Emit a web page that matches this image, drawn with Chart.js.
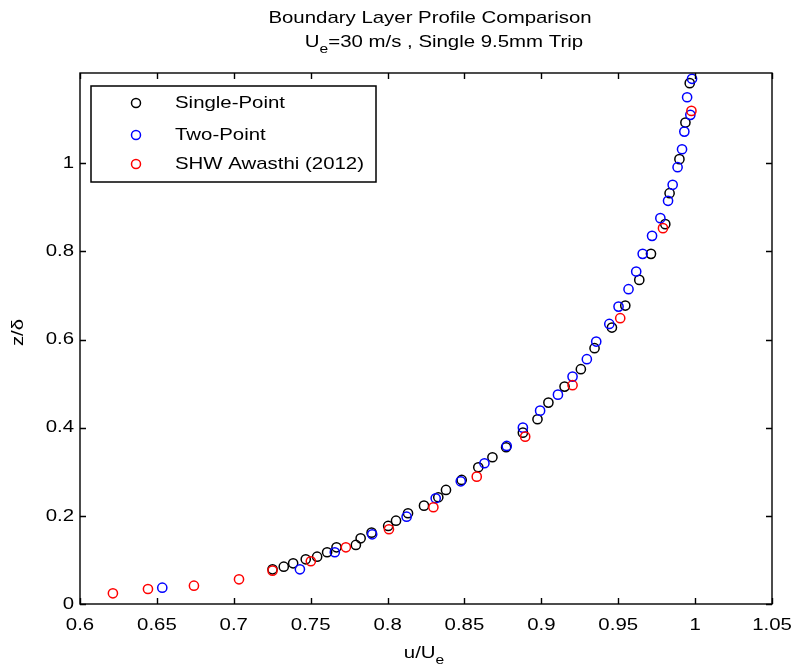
<!DOCTYPE html>
<html lang="en">
<head>
  <meta charset="UTF-8" />
  <title>Boundary Layer Profile Comparison</title>
  <script src="https://cdn.jsdelivr.net/npm/chart.js"></script>
  <style>
    body { margin: 0; background: #fff; }
  </style>
</head>
<body>
  <canvas id="chart" width="796" height="670"></canvas>

  <script>
    // data (u/Ue, z/delta)
    const singleU = [0.7252, 0.7325, 0.7386, 0.7468, 0.7542, 0.7607, 0.7668, 0.7794, 0.7825, 0.7896, 0.8004, 0.8055,
      0.8133, 0.8237, 0.8330, 0.8380, 0.8482, 0.8590, 0.8682, 0.8771, 0.8880, 0.8975, 0.9046, 0.9151, 0.9257,
      0.9346, 0.9459, 0.9546, 0.9637, 0.9713, 0.9806, 0.9834, 0.9898, 0.9937, 0.9965];
    const singleZ = [0.0788, 0.0847, 0.0923, 0.1014, 0.1074, 0.1174, 0.1287, 0.1340, 0.1491, 0.1619, 0.1771, 0.1891,
      0.2059, 0.2232, 0.2422, 0.2588, 0.2815, 0.3103, 0.3330, 0.3557, 0.3889, 0.4193, 0.4570, 0.4933, 0.5328,
      0.5805, 0.6273, 0.6772, 0.7355, 0.7946, 0.8620, 0.9323, 1.0095, 1.0926, 1.1820];

    const twoU = [0.6535, 0.7430, 0.7657, 0.7900, 0.8124, 0.8313, 0.8476, 0.8630, 0.8775, 0.8880, 0.8992, 0.9108,
      0.9203, 0.9296, 0.9357, 0.9442, 0.9502, 0.9567, 0.9617, 0.9659, 0.9720, 0.9774, 0.9824, 0.9854, 0.9886,
      0.9915, 0.9930, 0.9969, 0.9948, 0.9980];
    const twoZ = [0.0370, 0.0788, 0.1174, 0.1582, 0.1982, 0.2400, 0.2785, 0.3194, 0.3587, 0.4002, 0.4388, 0.4751,
      0.5160, 0.5555, 0.5955, 0.6356, 0.6749, 0.7144, 0.7544, 0.7946, 0.8354, 0.8756, 0.9149, 0.9512, 0.9913,
      1.0320, 1.0720, 1.1100, 1.1500, 1.1918];

    const awasthiU = [0.6214, 0.6442, 0.6741, 0.7034, 0.7252, 0.7501, 0.7729, 0.8009, 0.8298, 0.8580, 0.8895,
      0.9203, 0.9513, 0.9791, 0.9976];
    const awasthiZ = [0.0243, 0.0340, 0.0416, 0.0560, 0.0757, 0.0970, 0.1287, 0.1696, 0.2195, 0.2890, 0.3798,
      0.4965, 0.6486, 0.8529, 1.1190];

    const seriesNames = ["Single-Point", "Two-Point", "SHW Awasthi (2012)"];
    const xTicks = [0.6, 0.65, 0.7, 0.75, 0.8, 0.85, 0.9, 0.95, 1, 1.05];
    const yTicks = [0, 0.2, 0.4, 0.6, 0.8, 1];

    const FONT = '"Liberation Sans", Arial, sans-serif';
    const SX = 1.2; // text in the figure is stretched sideways
    const FS = 17;

    function pairs(us, zs) {
      return us.map((u, i) => ({ x: u, y: zs[i] }));
    }

    // draw a run of text pieces, some of them subscripts
    function drawRuns(ctx, parts, x, y, align) {
      ctx.save();
      ctx.textBaseline = "middle";
      ctx.fillStyle = "#000";
      let total = 0;
      parts.forEach(p => {
        ctx.font = (p.sub ? 13 : FS) + "px " + FONT;
        total += ctx.measureText(p.t).width * SX;
      });
      let cx = align === "center" ? x - total / 2 : (align === "right" ? x - total : x);
      parts.forEach(p => {
        ctx.font = (p.sub ? 13 : FS) + "px " + FONT;
        const w = ctx.measureText(p.t).width * SX;
        ctx.save();
        ctx.translate(cx, y + (p.sub ? 7 : 0));
        ctx.scale(SX, 1);
        ctx.textAlign = "left";
        ctx.fillText(p.t, 0, 0);
        ctx.restore();
        cx += w;
      });
      ctx.restore();
    }

    const matlabFrame = {
      id: "matlabFrame",
      afterDraw(chart) {
        const ctx = chart.ctx;
        const a = chart.chartArea;
        const xs = chart.scales.x, ys = chart.scales.y;

        ctx.save();
        ctx.strokeStyle = "#000";
        ctx.lineWidth = 1.4;
        ctx.strokeRect(a.left, a.top, a.right - a.left, a.bottom - a.top);

        // inward ticks on all four sides
        ctx.beginPath();
        xTicks.forEach(v => {
          const px = Math.round(xs.getPixelForValue(v)) + 0.5;
          ctx.moveTo(px, a.bottom); ctx.lineTo(px, a.bottom - 6);
          ctx.moveTo(px, a.top); ctx.lineTo(px, a.top + 6);
        });
        yTicks.forEach(v => {
          const py = Math.round(ys.getPixelForValue(v)) + 0.5;
          ctx.moveTo(a.left, py); ctx.lineTo(a.left + 6, py);
          ctx.moveTo(a.right, py); ctx.lineTo(a.right - 6, py);
        });
        ctx.stroke();

        // tick labels
        xTicks.forEach(v => {
          drawRuns(ctx, [{ t: String(v) }], xs.getPixelForValue(v), a.bottom + 21, "center");
        });
        yTicks.forEach(v => {
          drawRuns(ctx, [{ t: String(v) }], a.left - 6, ys.getPixelForValue(v), "right");
        });

        // titles
        drawRuns(ctx, [{ t: "Boundary Layer Profile Comparison" }], 430, 18, "center");
        drawRuns(ctx, [{ t: "U" }, { t: "e", sub: true }, { t: "=30 m/s , Single 9.5mm Trip" }], 444, 42, "center");
        drawRuns(ctx, [{ t: "u/U" }, { t: "e", sub: true }], 424, 653, "center");

        ctx.save();
        ctx.translate(18, (a.top + a.bottom) / 2 - 6);
        ctx.rotate(-Math.PI / 2);
        drawRuns(ctx, [{ t: "z/δ" }], 0, 0, "center");
        ctx.restore();

        // legend
        ctx.fillStyle = "#fff";
        ctx.fillRect(91, 86, 285, 96);
        ctx.lineWidth = 1.5;
        ctx.strokeRect(91, 86, 285, 96);
        const rows = [103, 135, 164];
        chart.data.datasets.forEach((ds, i) => {
          ctx.beginPath();
          ctx.strokeStyle = ds.borderColor;
          ctx.lineWidth = 1.5;
          ctx.arc(136, rows[i], 4.5, 0, Math.PI * 2);
          ctx.stroke();
          drawRuns(ctx, [{ t: ds.label }], 175, rows[i], "left");
        });
        ctx.restore();
      }
    };

    const marker = { pointStyle: "circle", pointRadius: 4.6, pointBorderWidth: 1.5, pointBackgroundColor: "rgba(0,0,0,0)", showLine: false };

    new Chart(document.getElementById("chart"), {
      type: "scatter",
      data: {
        datasets: [
          Object.assign({ label: seriesNames[0], data: pairs(singleU, singleZ), borderColor: "#000000", pointBorderColor: "#000000", order: 3 }, marker),
          Object.assign({ label: seriesNames[1], data: pairs(twoU, twoZ), borderColor: "#0000ff", pointBorderColor: "#0000ff", order: 2 }, marker),
          Object.assign({ label: seriesNames[2], data: pairs(awasthiU, awasthiZ), borderColor: "#ff0000", pointBorderColor: "#ff0000", order: 1 }, marker)
        ]
      },
      options: {
        responsive: false,
        animation: false,
        devicePixelRatio: 1,
        layout: { padding: { top: 73, right: 24, left: 0, bottom: 0 } },
        plugins: { legend: { display: false }, tooltip: { enabled: false } },
        scales: {
          x: {
            type: "linear", min: 0.6, max: 1.05,
            afterBuildTicks: s => { s.ticks = xTicks.map(v => ({ value: v })); },
            afterFit: s => { s.height = 66; },
            ticks: { display: false },
            grid: { display: false },
            border: { display: false }
          },
          y: {
            type: "linear", min: 0, max: 1.205,
            afterBuildTicks: s => { s.ticks = yTicks.map(v => ({ value: v })); },
            afterFit: s => { s.width = 80; },
            ticks: { display: false },
            grid: { display: false },
            border: { display: false }
          }
        }
      },
      plugins: [matlabFrame]
    });
  </script>
</body>
</html>
